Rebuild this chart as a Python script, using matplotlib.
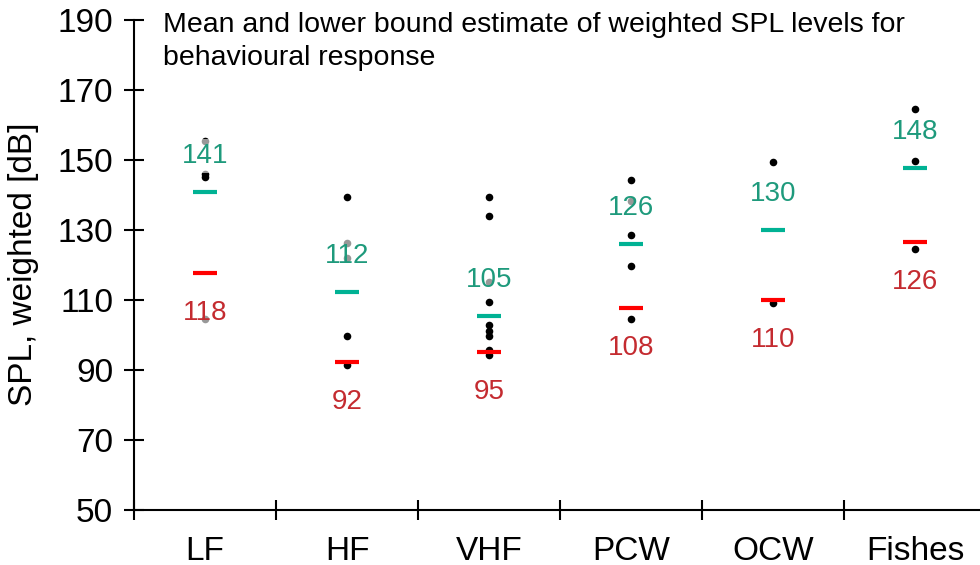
import matplotlib
matplotlib.use("Agg")
import matplotlib.pyplot as plt

plt.rcParams['font.family'] = ['Liberation Sans', 'DejaVu Sans']

# categories and estimates
groups = ['LF', 'HF', 'VHF', 'PCW', 'OCW', 'Fishes']
mean_spl = [140.8, 112.2, 105.4, 126.0, 130.0, 147.6]
lower_spl = [117.6, 92.1, 95.1, 107.7, 109.9, 126.4]

# individual observations per group
obs_lf = [155.5, 146.0, 145.0, 104.5]
obs_hf = [139.4, 126.3, 122.0, 99.7, 91.4]
obs_vhf = [139.3, 134.0, 115.2, 109.3, 102.7, 101.0, 99.5, 95.5, 94.3]
obs_pcw = [144.1, 138.1, 128.6, 119.7, 104.5]
obs_ocw = [149.5, 109.0]
obs_fishes = [164.5, 149.7, 124.5]
observations = [obs_lf, obs_hf, obs_vhf, obs_pcw, obs_ocw, obs_fishes]

mean_color = '#00B294'
mean_text = '#1E9A7C'
low_color = '#FF0000'
low_text = '#C42B30'

fig = plt.figure(figsize=(9.8, 5.65), dpi=100)
ax = fig.add_axes([134 / 980, 55.5 / 565, 852 / 980, 489.5 / 565])

xs = [i + 0.5 for i in range(len(groups))]

for x, vals in zip(xs, observations):
    ax.scatter([x] * len(vals), vals, s=30, color='black', zorder=2, linewidths=0)

half = 0.084
ax.hlines(mean_spl, [x - half for x in xs], [x + half for x in xs],
          colors=mean_color, linewidth=3, zorder=3)
ax.hlines(lower_spl, [x - half for x in xs], [x + half for x in xs],
          colors=low_color, linewidth=3, zorder=3)

box = dict(facecolor='white', alpha=0.6, edgecolor='none', pad=3)
for x, m, lo in zip(xs, mean_spl, lower_spl):
    ax.annotate(f"{m:.0f}", (x, m), xytext=(0, 36), textcoords='offset pixels',
                ha='center', va='center', fontsize=20, color=mean_text,
                bbox=box, zorder=4)
    ax.annotate(f"{lo:.0f}", (x, lo), xytext=(0, -40), textcoords='offset pixels',
                ha='center', va='center', fontsize=20, color=low_text,
                bbox=box, zorder=4)

ax.set_xlim(0, len(groups))
ax.set_ylim(50, 190)
ax.set_yticks(range(50, 191, 20))
ax.set_xticks(range(len(groups) + 1))
ax.set_xticklabels([])
ax.set_xticks(xs, minor=True)
ax.set_xticklabels(groups, minor=True)
ax.tick_params(axis='x', which='minor', length=0, labelsize=24, pad=19)
ax.tick_params(axis='both', which='major', direction='inout', length=14,
               width=1.5, labelsize=24, pad=8)

for side in ['top', 'right']:
    ax.spines[side].set_visible(False)
for side in ['left', 'bottom']:
    ax.spines[side].set_linewidth(1.5)

ax.set_ylabel('SPL, weighted [dB]', fontsize=24)
ax.yaxis.set_label_coords(-0.111, 0.5)

fig.text(163 / 980, 1 - 12 / 565,
         'Mean and lower bound estimate of weighted SPL levels for\nbehavioural response',
         ha='left', va='top', fontsize=20.5, linespacing=1.35)

fig.savefig('out.png', dpi=100)
